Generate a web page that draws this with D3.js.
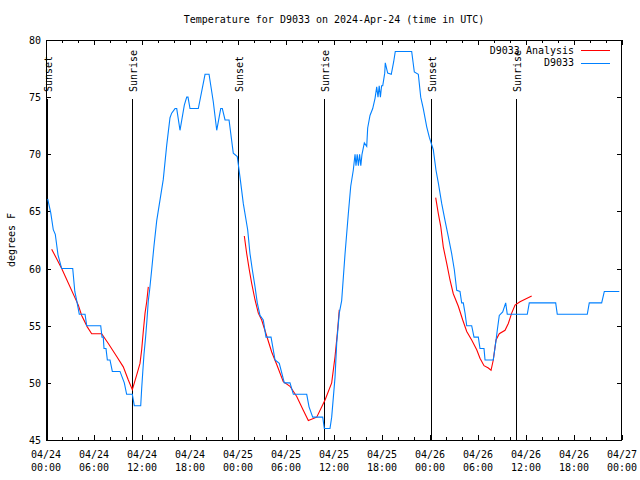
<!DOCTYPE html>
<html>
<head>
<meta charset="utf-8">
<script src="https://cdn.jsdelivr.net/npm/d3@7"></script>
<style>
  html, body { margin: 0; padding: 0; background: #fff; }
  svg { display: block; }
  text { font-family: "DejaVu Sans Mono", "Liberation Mono", monospace; font-size: 10px; fill: #000; }
</style>
</head>
<body>
<svg id="chart" width="640" height="480"></svg>
<script>
// ---- data (hours since 2024-04-24 00:00 UTC) ----
const titleText = "Temperature for D9033 on 2024-Apr-24 (time in UTC)";
const yLabelText = "degrees F";
const seriesNames = ["D9033 Analysis", "D9033"];

const obsHours = [
  0.21,0.59,0.91,1.16,1.5,1.96,3.34,3.6,3.84,4.16,
  4.88,5.09,6.84,7.0,7.16,7.25,7.5,7.67,8.0,8.29,
  9.25,9.79,10.08,10.79,11.04,11.84,11.96,12.1,12.25,12.45,
  12.62,12.79,12.95,13.21,13.5,13.84,14.66,15.09,15.5,15.71,
  16.13,16.34,16.75,17.29,17.59,17.75,18.0,19.04,19.88,20.38,
  20.91,21.34,21.84,22.04,22.38,22.88,23.41,23.91,24.25,24.66,
  25.21,25.5,25.79,26.13,26.41,26.75,27.16,27.5,28.13,28.63,
  29.16,29.79,30.5,30.92,32.59,32.88,33.34,34.59,34.79,35.5,
  35.71,36.13,36.34,36.66,36.96,37.38,37.79,38.09,38.41,38.55,
  38.63,38.75,38.9,39.05,39.2,39.35,39.5,39.79,40.09,40.21,
  40.5,40.84,41.13,41.34,41.5,41.65,41.8,41.95,42.09,42.34,
  42.41,42.71,43.16,43.46,43.66,45.71,46.04,46.54,46.84,47.16,
  47.59,47.91,48.41,48.75,49.04,49.46,49.88,50.29,50.71,51.04,
  51.34,51.75,51.96,52.16,52.38,52.59,53.21,53.5,54.04,54.25,
  54.75,54.88,55.91,56.25,56.41,56.66,57.09,57.46,57.66,60.16,
  60.41,63.71,63.91,67.66,67.91,69.46,69.79,71.66
];
const obsTemp = [
  66.1,64.9,63.4,63.0,61.2,60.0,60.0,58.0,57.2,56.0,
  56.0,55.0,55.0,54.0,54.0,53.0,53.0,52.0,52.0,51.0,
  51.0,50.0,49.0,49.0,48.0,48.0,49.5,51.0,52.5,54.0,
  55.5,57.2,58.1,59.9,62.0,64.2,67.8,70.8,73.2,73.6,
  74.0,74.0,72.1,74.3,75.0,75.0,74.0,74.0,77.0,77.0,
  74.6,72.1,74.0,74.0,73.0,73.0,70.1,69.8,68.0,65.7,
  63.4,61.3,59.9,58.4,57.0,55.9,55.5,54.0,54.0,52.0,
  51.7,50.0,50.0,49.0,49.0,47.9,47.0,47.0,46.0,46.0,
  47.0,50.5,53.5,56.1,57.2,61.3,64.8,67.2,68.6,69.5,
  70.0,69.0,70.0,69.0,70.0,69.0,70.0,71.0,70.7,72.3,
  73.4,74.0,74.9,75.9,75.0,76.0,75.0,76.0,76.0,77.1,
  78.0,77.1,77.0,78.1,79.0,79.0,77.2,77.0,75.0,74.0,
  72.4,71.5,70.4,68.6,67.5,65.7,64.2,62.8,61.3,59.9,
  58.1,58.0,57.0,57.0,56.1,55.0,55.0,54.0,54.0,53.0,
  53.0,52.0,52.0,53.7,54.6,55.9,56.2,57.0,56.0,56.0,
  57.0,57.0,56.0,56.0,57.0,57.0,58.0,58.0
];

// analysis series; null marks a gap between runs
const anaHours = [
  0.71,1.96,4.04,4.46,5.16,5.71,6.96,7.79,8.84,9.66,
  10.29,10.79,11.34,11.75,11.96,12.16,12.38,12.59,12.79, null,
  24.79,25.09,25.41,25.71,26.13,26.54,26.96,27.5,28.21,28.84,
  29.66,30.5,31.34,32.16,32.79,33.84,34.88,35.71,36.13,36.41,
  36.66, null,
  48.71,49.04,49.34,49.66,50.09,50.5,50.91,51.54,52.09,52.59,
  53.21,53.84,54.25,54.75,55.29,55.63,55.91,56.25,56.66,57.38,
  57.79,58.21,58.63,59.25,60.71
];
const anaTemp = [
  61.7,60.0,56.8,55.9,54.9,54.3,54.3,53.45,52.3,51.4,
  50.25,49.4,50.7,51.7,52.9,54.5,56.1,57.1,58.4, null,
  62.85,61.3,59.9,58.7,57.25,56.1,55.5,54.3,52.7,51.6,
  50.1,49.7,48.8,47.6,46.7,47.0,48.5,50.0,52.3,54.3,
  56.4, null,
  66.2,64.8,63.7,61.9,60.45,59.0,57.8,56.7,55.5,54.5,
  53.75,52.9,52.15,51.5,51.3,51.1,52.0,53.75,54.3,54.6,
  55.2,56.1,56.8,57.1,57.6
];

const sunHours  = [0.09, 10.79, 24.04, 34.79, 48.09, 58.71];
const sunLabels = ["Sunset","Sunrise","Sunset","Sunrise","Sunset","Sunrise"];

const yTicks = [45, 50, 55, 60, 65, 70, 75, 80];

// ---- layout ----
const T0 = Date.UTC(2024, 3, 24);
const toDate = h => new Date(T0 + h * 3600e3);
const L = 46, R = 622, TOP = 40, BOT = 440;
const SY = 1.1; // vertical stretch of glyphs to mimic the tall bitmap font

const svg = d3.select("#chart");
const x = d3.scaleUtc().domain([toDate(0), toDate(72)]).range([L, R]);
const y = d3.scaleLinear().domain([45, 80]).range([BOT, TOP]);

const majorX = d3.utcHour.every(6).range(toDate(0), toDate(72.01));
const minorX = d3.utcHour.every(2).range(toDate(0), toDate(72.01)).filter(d => d.getUTCHours() % 6 !== 0);

// ticks (inward, mirrored)
const tickG = svg.append("g").attr("shape-rendering", "crispEdges");
function addAxis(axis, tx, ty) {
  const g = tickG.append("g").attr("transform", `translate(${tx},${ty})`).call(axis);
  g.select(".domain").remove();
  g.selectAll("text").remove();
  g.selectAll("line").attr("stroke", "#000");
}
addAxis(d3.axisBottom(x).tickValues(majorX).tickSize(-5).tickFormat(""), 0, BOT);
addAxis(d3.axisBottom(x).tickValues(minorX).tickSize(-3).tickFormat(""), 0, BOT);
addAxis(d3.axisTop(x).tickValues(majorX).tickSize(-5).tickFormat(""), 0, TOP);
addAxis(d3.axisTop(x).tickValues(minorX).tickSize(-3).tickFormat(""), 0, TOP);
addAxis(d3.axisLeft(y).tickValues(yTicks).tickSize(-5).tickFormat(""), L, 0);
addAxis(d3.axisRight(y).tickValues(yTicks).tickSize(-5).tickFormat(""), R, 0);

// frame
svg.append("rect").attr("x", L + 0.5).attr("y", TOP + 0.5)
  .attr("width", R - L - 1).attr("height", BOT - TOP)
  .attr("fill", "none").attr("stroke", "#000").attr("shape-rendering", "crispEdges");

// text helper: place at (tx,ty), optional rotation, glyphs stretched vertically
function place(sel, fx, fy, rot) {
  return sel.attr("transform", (d, i) =>
    `translate(${fx(d, i)},${fy(d, i)})${rot ? " rotate(" + rot + ")" : ""} scale(1,${SY})`);
}

// x tick labels (two lines)
const fmtD = d3.utcFormat("%m/%d"), fmtH = d3.utcFormat("%H:%M");
place(svg.append("g").selectAll("text").data(majorX).join("text"), d => x(d), () => 458)
  .attr("text-anchor", "middle").text(d => fmtD(d));
place(svg.append("g").selectAll("text").data(majorX).join("text"), d => x(d), () => 471)
  .attr("text-anchor", "middle").text(d => fmtH(d));

// y tick labels
place(svg.append("g").selectAll("text").data(yTicks).join("text"), () => 41, d => y(d))
  .attr("dy", "0.36em").attr("text-anchor", "end").text(d => d);

// title and axis label
place(svg.append("text").datum(titleText), () => (L + R) / 2, () => 23)
  .attr("text-anchor", "middle").text(d => d);
place(svg.append("text").datum(yLabelText), () => 11, () => (TOP + BOT) / 2, -90)
  .attr("dy", "0.36em").attr("text-anchor", "middle").text(d => d);

// sunrise / sunset markers
const sunData = sunHours.map((h, i) => ({ t: toDate(h), label: sunLabels[i] }));
svg.append("g").selectAll("line").data(sunData).join("line")
  .attr("x1", d => Math.round(x(d.t)) + 0.5).attr("x2", d => Math.round(x(d.t)) + 0.5)
  .attr("y1", 99).attr("y2", BOT)
  .attr("stroke", "#000").attr("stroke-width", 1).attr("shape-rendering", "crispEdges");
place(svg.append("g").selectAll("text").data(sunData).join("text"),
      d => Math.round(x(d.t)) + 1.5, () => 92, -90)
  .attr("dy", "0.36em").attr("text-anchor", "start").text(d => d.label);

// series
const obs = obsHours.map((h, i) => ({ t: toDate(h), v: obsTemp[i] }));
const ana = anaHours.map((h, i) => ({ t: h === null ? null : toDate(h), v: anaTemp[i] }));

const line = d3.line().defined(d => d.t !== null && d.v !== null)
  .x(d => x(d.t)).y(d => y(d.v));

svg.append("path").datum(ana).attr("d", line)
  .attr("fill", "none").attr("stroke", "#ff0000").attr("stroke-width", 1.1);
svg.append("path").datum(obs).attr("d", line)
  .attr("fill", "none").attr("stroke", "#0080ff").attr("stroke-width", 1.1);

// legend
const legendColors = ["#ff0000", "#0080ff"];
const lg = svg.append("g").selectAll("g").data(seriesNames).join("g")
  .attr("transform", (d, i) => `translate(0,${50 + i * 12.5})`);
place(lg.append("text"), () => 574, () => 0)
  .attr("dy", "0.36em").attr("text-anchor", "end").text(d => d);
lg.append("line").attr("x1", 581).attr("x2", 610).attr("y1", 0.5).attr("y2", 0.5)
  .attr("stroke", (d, i) => legendColors[i]).attr("stroke-width", 1)
  .attr("shape-rendering", "crispEdges");
</script>
</body>
</html>
